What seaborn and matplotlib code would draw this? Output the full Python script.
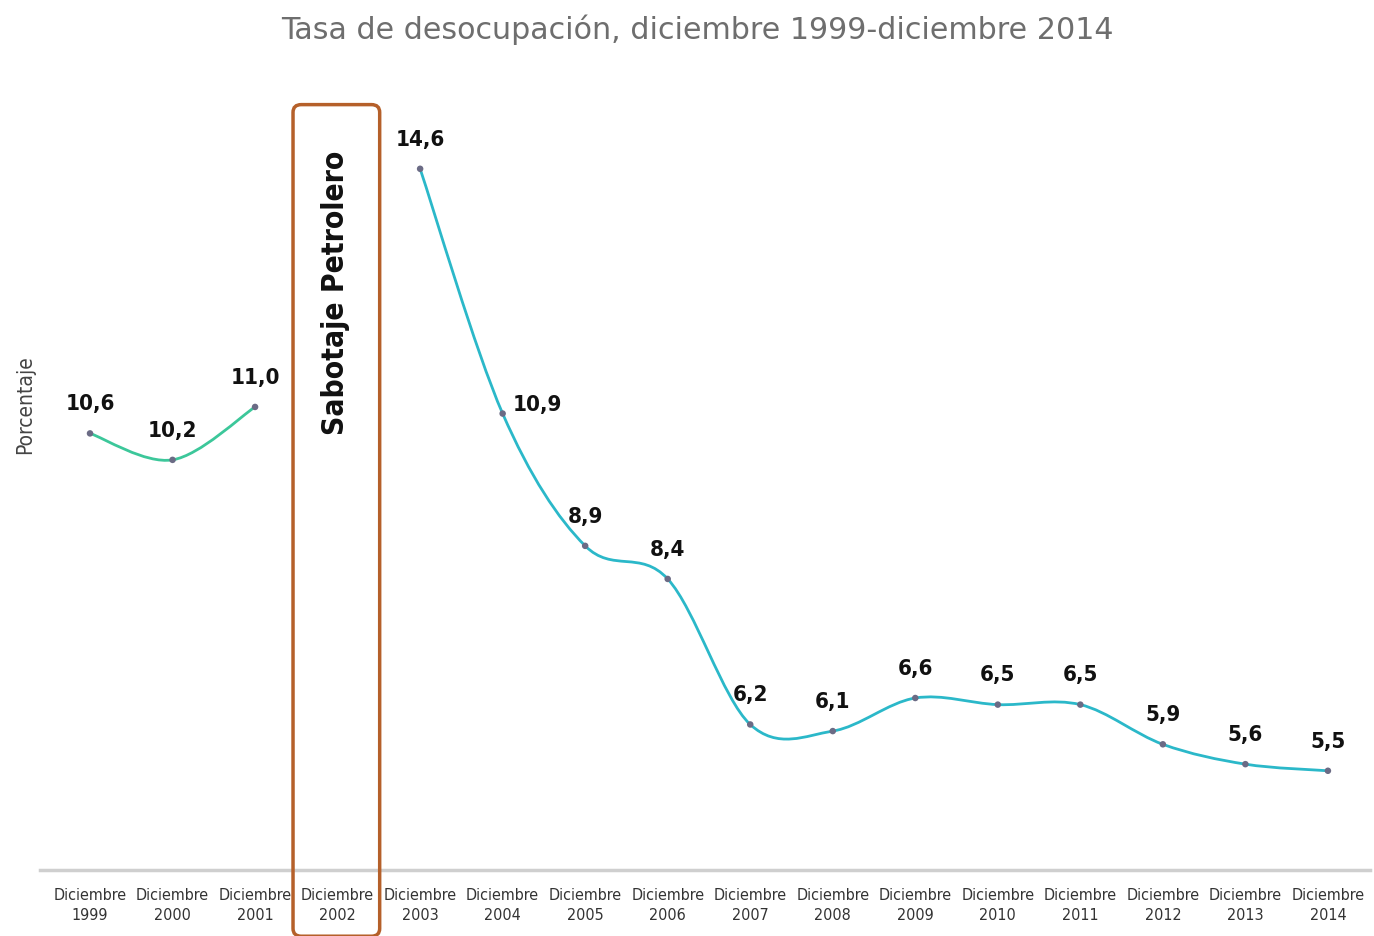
import numpy as np
import pandas as pd
import seaborn as sns
import matplotlib.pyplot as plt
from matplotlib.path import Path
from matplotlib.patches import PathPatch, FancyBboxPatch
from matplotlib.transforms import blended_transform_factory

# Tasa de desocupacion, diciembre de cada ano (2002 sin dato: sabotaje petrolero)
years = [1999, 2000, 2001, 2002, 2003, 2004, 2005, 2006,
         2007, 2008, 2009, 2010, 2011, 2012, 2013, 2014]
tasa = [10.6, 10.2, 11.0, np.nan, 14.6, 10.9, 8.9, 8.4,
        6.2, 6.1, 6.6, 6.5, 6.5, 5.9, 5.6, 5.5]
tick_labels = [f"Diciembre\n{y}" for y in years]
label_texts = [("%.1f" % v).replace(".", ",") if not np.isnan(v) else "" for v in tasa]

df = pd.DataFrame({"pos": range(len(years)), "year": years, "tasa": tasa})

sns.set_style("white")
plt.rcParams["font.family"] = ["DejaVu Sans"]
cond = dict(family=["DejaVu Sans"], fontstretch="condensed")

fig = plt.figure(figsize=(13.74, 9.36), dpi=100)
ax = fig.add_axes([40 / 1374, 66 / 936, 1330 / 1374, 770 / 936])


# smooth line (Excel-like) through the points of one segment
def smooth_path(xs, ys):
    pts = np.column_stack([xs, ys])
    verts = [pts[0]]
    codes = [Path.MOVETO]
    n = len(pts)
    for i in range(n - 1):
        p0 = pts[i - 1] if i > 0 else pts[i]
        p1 = pts[i]
        p2 = pts[i + 1]
        p3 = pts[i + 2] if i + 2 < n else pts[i + 1]
        c1 = p1 + (p2 - p0) / 6
        c2 = p2 - (p3 - p1) / 6
        verts += [c1, c2, p2]
        codes += [Path.CURVE4] * 3
    return Path(verts, codes)


seg1 = df[df["year"] <= 2001]
seg2 = df[df["year"] >= 2003]
for seg, col in [(seg1, "#3cc79a"), (seg2, "#2bb8c9")]:
    ax.add_patch(PathPatch(smooth_path(seg["pos"].values, seg["tasa"].values),
                           facecolor="none", edgecolor=col, lw=2, zorder=2))

sns.scatterplot(data=df.dropna(), x="pos", y="tasa", color="#6b6b85",
                s=22, edgecolor="none", ax=ax, zorder=3)

# value labels
for i, (v, t) in enumerate(zip(tasa, label_texts)):
    if not t:
        continue
    off = (25, 6) if years[i] == 2004 else (0, 21)
    ax.annotate(t, (i, v), xytext=off, textcoords="offset points",
                ha="center", va="center", fontsize=16, fontweight="bold",
                color="#111111", **cond)

ax.set_xlim(-0.606, 15.51)
ax.set_ylim(4.0, 15.64)
ax.set_xticks(range(len(years)))
ax.set_xticklabels(tick_labels, fontsize=11.5, color="#333333",
                   linespacing=1.45, **cond)
ax.tick_params(axis="x", length=0, pad=13)
ax.set_yticks([])
ax.set_xlabel("")
ax.set_ylabel("")
for s in ["top", "right", "left"]:
    ax.spines[s].set_visible(False)
ax.spines["bottom"].set_color("#cfcfcf")
ax.spines["bottom"].set_linewidth(2.5)

# Sabotaje petrolero box
tr = blended_transform_factory(ax.transData, ax.transAxes)
box = FancyBboxPatch((2.46, -0.086), 1.05, 1.08,
                     boxstyle="round,pad=0,rounding_size=0.1",
                     mutation_aspect=1 / 10,
                     transform=tr, clip_on=False, facecolor="none",
                     edgecolor="#b5602a", lw=2.5, zorder=4)
ax.add_patch(box)
ax.text(2.97, 0.75, "Sabotaje Petrolero", transform=tr, rotation=90,
        ha="center", va="center", fontsize=21.5, fontweight="bold",
        color="#111111", **cond)

fig.text(25 / 1374, 1 - 405 / 936, "Porcentaje", rotation=90, ha="center",
         va="center", fontsize=15, color="#444444", **cond)
fig.text(697 / 1374, 1 - 30 / 936, "Tasa de desocupación, diciembre 1999-diciembre 2014",
         ha="center", va="center", fontsize=21.7, color="#6e6e6e")

fig.savefig("out.png", dpi=100)
